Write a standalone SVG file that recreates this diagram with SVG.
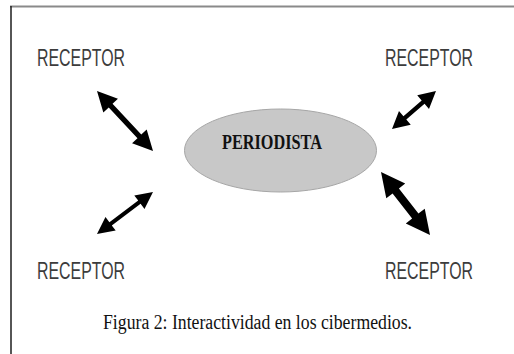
<svg xmlns="http://www.w3.org/2000/svg" width="514" height="354" viewBox="0 0 514 354">
  <style>
    .rec { font-family: "Liberation Sans", Arial, sans-serif; font-size: 23px; fill: #3c3c3c; }
    .per { font-family: "Liberation Serif", "Times New Roman", serif; font-size: 21px; font-weight: bold; fill: #111; }
    .cap { font-family: "Liberation Serif", "Times New Roman", serif; font-size: 20px; fill: #111; }
    .arr { fill: #000; }
  </style>
  <rect x="0" y="0" width="514" height="354" fill="#fff"/>
  <g id="frame">
    <line x1="10" y1="6.5" x2="514" y2="6.5" stroke="#8a8a8a" stroke-width="2"/>
    <line x1="11" y1="6" x2="11" y2="354" stroke="#1e1e1e" stroke-width="1.5"/>
  </g>
  <g id="periodista">
    <ellipse cx="280.5" cy="150.5" rx="96" ry="41.5" fill="#c8c8c8" stroke="#a6a6a6" stroke-width="1"/>
    <text class="per" x="222" y="149" textLength="100" lengthAdjust="spacingAndGlyphs">PERIODISTA</text>
  </g>
  <g id="receptor-tl">
    <text class="rec" x="37" y="66" textLength="88" lengthAdjust="spacingAndGlyphs">RECEPTOR</text>
  </g>
  <g id="receptor-tr">
    <text class="rec" x="385" y="66" textLength="88" lengthAdjust="spacingAndGlyphs">RECEPTOR</text>
  </g>
  <g id="receptor-bl">
    <text class="rec" x="37" y="279" textLength="88" lengthAdjust="spacingAndGlyphs">RECEPTOR</text>
  </g>
  <g id="receptor-br">
    <text class="rec" x="385" y="279" textLength="88" lengthAdjust="spacingAndGlyphs">RECEPTOR</text>
  </g>
  <g id="connectors">
    <polygon class="arr" transform="translate(97,91) rotate(46.97)" points="0,0 20,-10 20,-2.6 62.1,-2.6 62.1,-10 82.1,0 62.1,10 62.1,2.6 20,2.6 20,10"/>
    <polygon class="arr" transform="translate(392,129) rotate(-40.8)" points="0,0 17,-9 17,-2.2 41.1,-2.2 41.1,-9 58.1,0 41.1,9 41.1,2.2 17,2.2 17,9"/>
    <polygon class="arr" transform="translate(97,234) rotate(-36.87)" points="0,0 17,-8.5 17,-2 53,-2 53,-8.5 70,0 53,8.5 53,2 17,2 17,8.5"/>
    <polygon class="arr" transform="translate(381,172) rotate(52.1)" points="0,0 24,-12 24,-4 55.8,-4 55.8,-12 79.8,0 55.8,12 55.8,4 24,4 24,12"/>
  </g>
  <text class="cap" x="103" y="329" textLength="309" lengthAdjust="spacingAndGlyphs">Figura 2: Interactividad en los cibermedios.</text>
</svg>
